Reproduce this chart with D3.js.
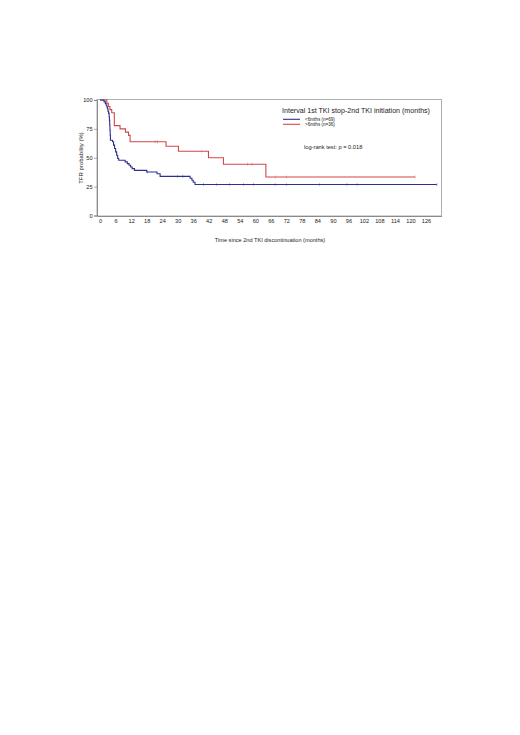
<!DOCTYPE html>
<html><head><meta charset="utf-8">
<script src="https://cdn.jsdelivr.net/npm/d3@7"></script>
<style>body{margin:0;background:#fff}svg{display:block}text{font-family:"Liberation Sans",Arial,sans-serif;fill:#222}</style>
</head><body>
<script>
// Data (months, survival %)
const xTicks = [0,6,12,18,24,30,36,42,48,54,60,66,72,78,84,90,96,102,108,114,120,126];
const yTicks = [0,25,50,75,100];
const groups = ["<6mths (n=69)", ">6mths (n=36)"];
const blueTimes = [0,1.5,2.0,2.3,2.6,2.8,3.0,3.1,3.3,3.5,3.6,3.7,3.8,3.9,4.0,4.8,5.2,5.6,6.0,6.4,6.8,7.2,9.7,10.5,11.2,11.8,12.4,13.3,18.0,22.0,23.2,34.8,35.5,36.0,36.7,130.2];
const blueSurv  = [100,98.6,97.1,95.7,94.2,92.8,91.3,89.9,88.4,85.5,82.6,78.3,73.9,69.6,65.2,63.8,60.9,58.0,55.1,52.2,49.3,47.8,46.4,44.9,43.5,42.0,40.6,39.1,37.7,36.2,33.9,32.2,30.5,28.8,26.8,26.8];
const blueCens = [18.3,30,32,40,45.1,50,55.4,59.3,67.7,72,84.9,95.4,99.4,130.2];
const redTimes = [0,2.6,3.2,3.8,4.5,5.5,7.7,9.8,11.0,11.6,25.5,30.3,41.9,47.7,64.1,121.8];
const redSurv  = [100,97.2,94.4,91.7,88.9,77.8,75.0,72.2,69.4,63.9,59.9,55.6,50.0,44.4,33.3,33.3];
const redCens = [21.3,22.2,39.3,57,58.7,67.7,72,121.8];
const colors = ["#2e2f8f","#d2474b"];

const W=520,H=735;
const svg=d3.select("body").append("svg").attr("width",W).attr("height",H);
const x=d3.scaleLinear().domain([-1.2,132]).range([97,441.5]);
const y=d3.scaleLinear().domain([0,100]).range([215.5,100]);

// frame
svg.append("rect").attr("x",x(-1.2)).attr("y",99.5).attr("width",x(132)-x(-1.2)).attr("height",216-99.5)
  .attr("fill","none").attr("stroke","#9a9a9a").attr("stroke-width",0.8);

// y axis
const ya=svg.append("g").attr("transform",`translate(${x(-1.2)},0)`)
  .call(d3.axisLeft(y).tickValues(yTicks).tickSize(3).tickPadding(1.5));
ya.select(".domain").attr("stroke","#777").attr("stroke-width",0.8);
ya.selectAll(".tick line").attr("stroke","#777").attr("stroke-width",0.6);
ya.selectAll("text").attr("font-size",5.6).attr("fill","#222").attr("font-family","Liberation Sans, Arial");

// x axis
const xa=svg.append("g").attr("transform",`translate(0,216)`)
  .call(d3.axisBottom(x).tickValues(xTicks).tickSize(0).tickPadding(3));
xa.select(".domain").attr("stroke","#777").attr("stroke-width",0.8);
xa.selectAll("text").attr("font-size",5.6).attr("fill","#222").attr("font-family","Liberation Sans, Arial");

svg.append("text").attr("x",270).attr("y",241.5).attr("text-anchor","middle").attr("font-size",5.6)
  .text("Time since 2nd TKI discontinuation (months)");
svg.append("text").attr("transform","translate(82.5,158) rotate(-90)").attr("text-anchor","middle").attr("font-size",6)
  .text("TFR probability (%)");

function drawKM(times,surv,cens,color){
  const pts=times.map((t,i)=>[t,surv[i]]);
  const line=d3.line().x(d=>x(d[0])).y(d=>y(d[1])).curve(d3.curveStepAfter);
  svg.append("path").datum(pts).attr("d",line).attr("fill","none").attr("stroke",color).attr("stroke-width",1.1);
  const sAt=t=>{let s=100;for(let i=0;i<times.length;i++){if(times[i]<=t)s=surv[i];}return s;};
  svg.append("g").selectAll("line").data(cens).join("line")
    .attr("x1",d=>x(d)).attr("x2",d=>x(d)).attr("y1",d=>y(sAt(d))-1.6).attr("y2",d=>y(sAt(d))+1.6)
    .attr("stroke",color).attr("stroke-width",0.5).attr("opacity",0.7);
}
drawKM(redTimes,redSurv,redCens,colors[1]);
drawKM(blueTimes,blueSurv,blueCens,colors[0]);

// legend
svg.append("text").attr("x",282).attr("y",112.5).attr("font-size",7.1)
  .text("Interval 1st TKI stop-2nd TKI initiation (months)");
groups.forEach((g,i)=>{
  const yy=119.3+i*5;
  svg.append("line").attr("x1",283).attr("x2",300).attr("y1",yy).attr("y2",yy).attr("stroke",colors[i]).attr("stroke-width",1.1);
  svg.append("text").attr("x",305).attr("y",yy+1.5).attr("font-size",4.6).text(g);
});
svg.append("text").attr("x",304).attr("y",149.2).attr("font-size",5.7).text("log-rank test: p = 0.018");
</script>
</body></html>
